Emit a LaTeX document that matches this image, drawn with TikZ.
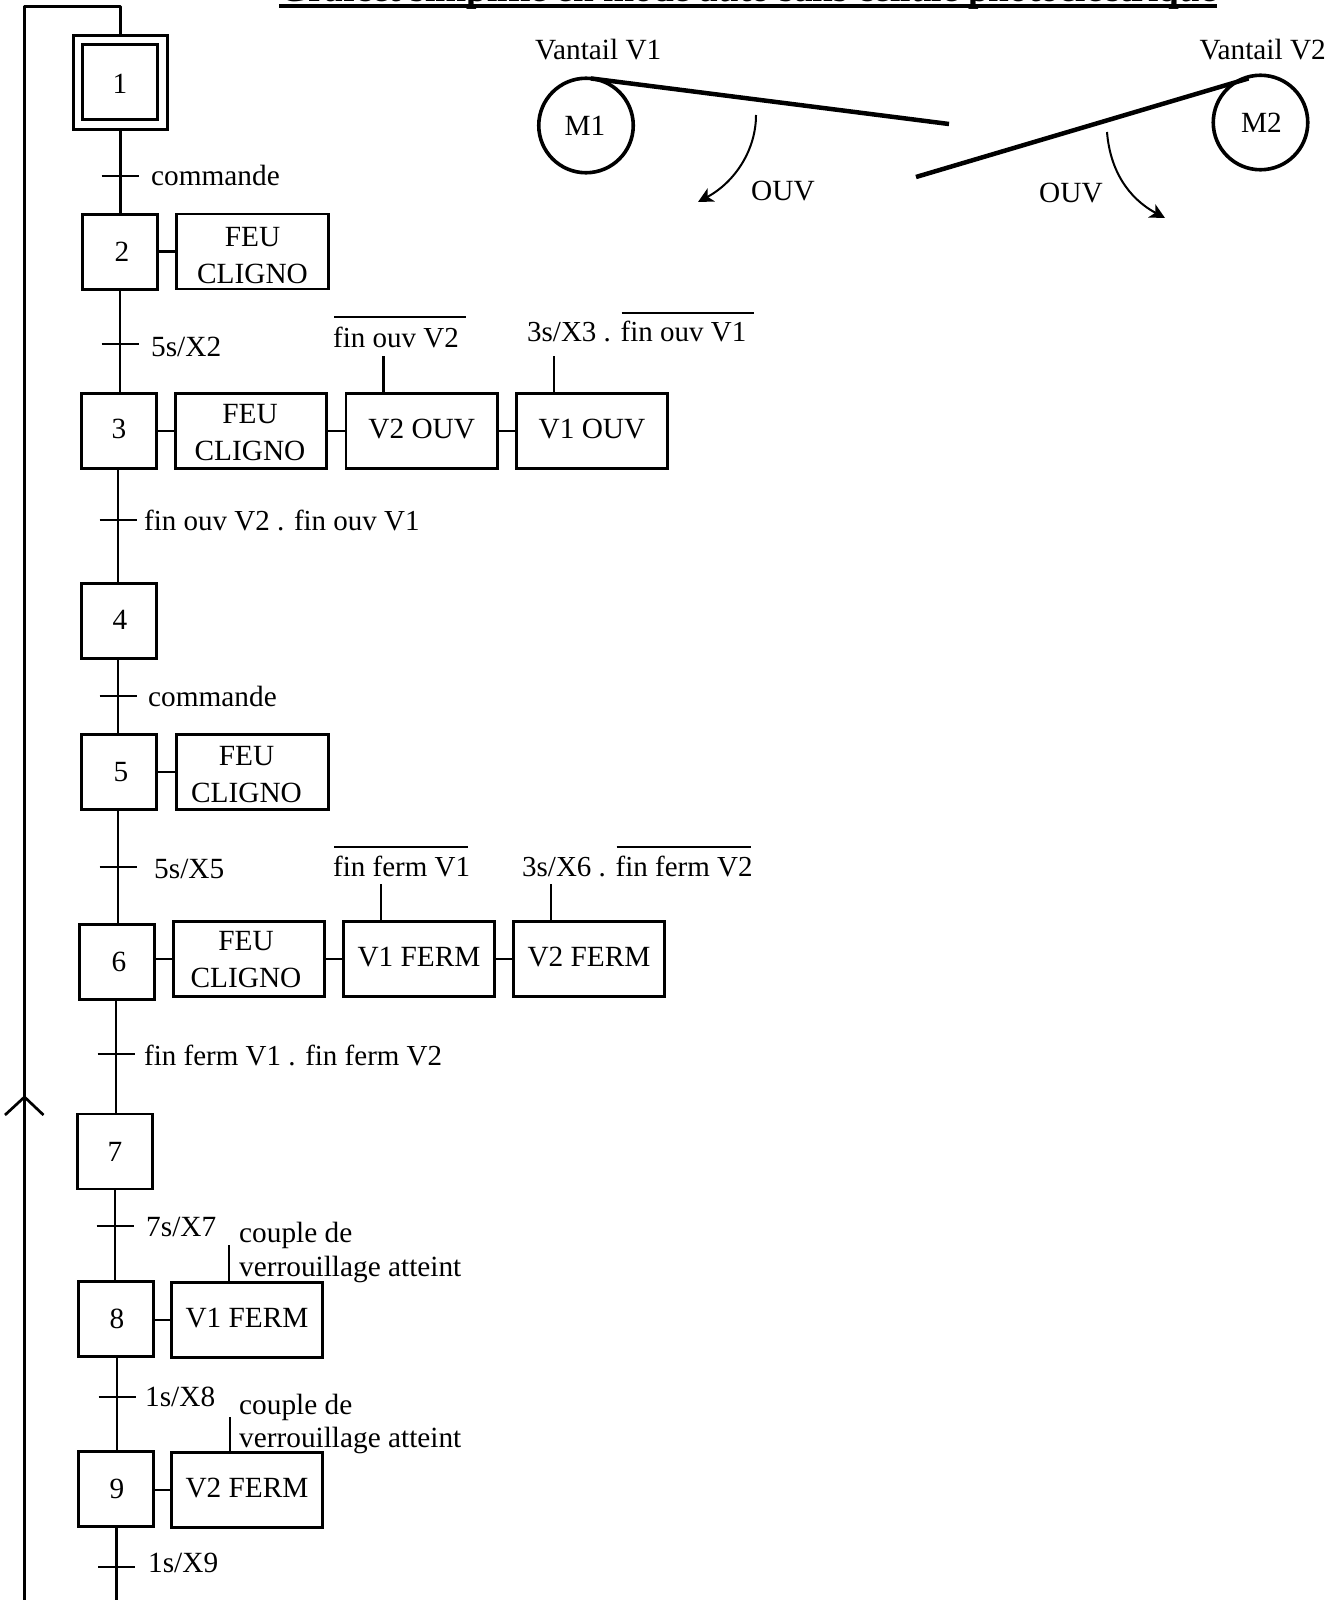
\documentclass[tikz,border=0pt]{standalone}
\usepackage{fontspec}
\setmainfont{Liberation Serif}
\usetikzlibrary{arrows.meta}
\newcommand{\feucli}[2]{\smash{\raisebox{#2pt}{\kern#1pt\begin{tabular}[b]{@{}c@{}}FEU\\CLIGNO\end{tabular}\kern-#1pt}}}
\newcommand{\barover}[2]{\rlap{\kern1pt\rule[#1pt]{#2pt}{2.4pt}}}
\newcommand{\sd}[2]{\kern#1pt#2\kern-#1pt}
\tikzset{
  ln/.style={line width=2.7pt,line cap=butt},
  stepbox/.style={draw,ln,minimum width=75pt,minimum height=75pt,inner sep=0pt},
  actbox/.style={draw,ln,minimum width=151.5pt,minimum height=75pt,inner sep=0pt,text height=14pt,text depth=0pt},
  lab/.style={anchor=base west,inner sep=0pt},
  fin/.style={lab,font=\fontsize{29}{37}\selectfont},
  lead/.style={line width=4.5pt},
  turn/.style={line width=2pt,-{Stealth[length=15pt,width=15pt,inset=4pt]}},
  motor/.style={draw,circle,line width=3.6pt,minimum size=94.5pt,inner sep=0pt}
}
\begin{document}
\begin{tikzpicture}[x=1pt,y=-1pt,font=\fontsize{29.3}{37}\selectfont]
\useasboundingbox (0,0) rectangle (1334,1600);
\fill[white] (0,0) rectangle (1334,1600);
% title
\node[anchor=base west,inner sep=0pt,font=\fontsize{37.3}{40}\selectfont\bfseries] (title) at (279,2) {Grafcet simplifié en mode auto sans cellule photoélectrique};
\draw[line width=3.8pt] ([yshift=-4.2pt]title.base west) -- ([yshift=-4.2pt]title.base east);
% steps
\node[stepbox,minimum width=94pt,minimum height=94pt] (s1o) at (120.7,82.5) {};
\node[stepbox,text height=23pt] (s1) at (120,81.7) {1};
\node[stepbox] (s2) at (120,252) {\sd{2}{2}};
\node[stepbox,text height=16pt] (s3) at (119,431) {3};
\node[stepbox,text height=16pt] (s4) at (119,621) {\sd{1}{4}};
\node[stepbox] (s5) at (119,772) {\sd{2}{5}};
\node[stepbox] (s6) at (117,962) {\sd{2}{6}};
\node[stepbox] (s7) at (115,1151.5) {7};
\node[stepbox] (s8) at (116,1319) {\sd{1}{8}};
\node[stepbox] (s9) at (116,1489) {\sd{1}{9}};
% actions
\node[actbox] (a2) at (252.5,251.5) {\feucli{0}{-24.5}};
\node[actbox] (a3) at (251,431) {\feucli{-1}{-22.5}};
\node[actbox] (a3b) at (421.7,431) {V2 OUV};
\node[actbox] (a3c) at (592,431) {V1 OUV};
\node[actbox] (a5) at (252.5,772) {\feucli{-6}{-23.5}};
\node[actbox] (a6) at (249,959) {\feucli{-3}{-21.5}};
\node[actbox] (a6b) at (419,959) {V1 FERM};
\node[actbox] (a6c) at (589,959) {V2 FERM};
\node[actbox] (a8) at (247,1320) {V1 FERM};
\node[actbox] (a9) at (247,1490) {V2 FERM};
% ticks
\coordinate (t1) at (120,176);
\coordinate (t2) at (120,344);
\coordinate (t3) at (118,520);
\coordinate (t4) at (118,696);
\coordinate (t5) at (118,867);
\coordinate (t6) at (116,1054);
\coordinate (t7) at (115,1226);
\coordinate (t8) at (117,1397);
\coordinate (t9) at (116.5,1567);
\coordinate (end) at (116.5,1600);
\coordinate (lb) at (24.5,1600);
\coordinate (lt) at (24.5,6.5);
\coordinate (ah) at (24.5,1097);
% stems
\draw[ln] (s1o.south) -- (s1o.south |- s2.north);
\draw[ln] (s2.south) -- (s2.south |- s3.north);
\draw[ln] (t3 |- s3.south) -- (t3 |- s4.north);
\draw[ln] (t4 |- s4.south) -- (t4 |- s5.north);
\draw[ln] (t5 |- s5.south) -- (t5 |- s6.north);
\draw[ln] (t6 |- s6.south) -- (t6 |- s7.north);
\draw[ln] (t7 |- s7.south) -- (t7 |- s8.north);
\draw[ln] (t8 |- s8.south) -- (t8 |- s9.north);
\draw[ln] (t9 |- s9.south) -- (end);
\draw[ln,line join=round] (lb) -- (lt) -| (s1o.north);
\draw[ln,line join=round] ([shift={(-19.5pt,-18pt)}]ah) -- (ah) -- ([shift={(19pt,-18pt)}]ah);
\foreach \t in {t1,t2,t3,t4,t5,t6,t7,t8,t9}
  \draw[ln] ([xshift=-18.5pt]\t) -- ([xshift=18.5pt]\t);
% links
\draw[ln] (s2.east |- a2.west) -- (a2.west);
\draw[ln] (s3.east |- a3.west) -- (a3.west);
\draw[ln] (a3.east) -- (a3b.west);
\draw[ln] (a3b.east) -- (a3c.west);
\draw[ln] (s5.east |- a5.west) -- (a5.west);
\draw[ln] (s6.east |- a6.west) -- (a6.west);
\draw[ln] (a6.east) -- (a6b.west);
\draw[ln] (a6b.east) -- (a6c.west);
\draw[ln] (s8.east |- a8.west) -- (a8.west);
\draw[ln] (s9.east |- a9.west) -- (a9.west);
% condition leads
\coordinate (c3b) at (383.5,356);
\coordinate (c3c) at (554,356);
\coordinate (c6b) at (381,884);
\coordinate (c6c) at (551,884);
\coordinate (c8) at (229,1245);
\coordinate (c9) at (230,1417);
\draw[ln] (c3b) -- (c3b |- a3b.north);
\draw[ln] (c3c) -- (c3c |- a3c.north);
\draw[ln] (c6b) -- (c6b |- a6b.north);
\draw[ln] (c6c) -- (c6c |- a6c.north);
\draw[ln] (c8) -- (c8 |- a8.north);
\draw[ln] (c9) -- (c9 |- a9.north);
% labels
\node[lab] (l1) at (151,185) {commande};
\node[lab] (l2) at (151,356) {5s/X2};
\node[fin] (l3) at (144,530) {fin ouv V2 . fin ouv V1};
\node[lab] (l4) at (148,706) {commande};
\node[lab] (l5) at (154,878) {5s/X5};
\node[fin] (l6) at (144,1065) {fin ferm V1 . fin ferm V2};
\node[lab] (l7) at (146,1236) {7s/X7};
\node[lab] (l8) at (145,1406) {1s/X8};
\node[lab] (l9) at (148,1572) {1s/X9};
\node[fin] (k3b) at (333,347) {\barover{29}{132}fin ouv V2};
\node[fin] (k3c) at (527,341) {3s/X3 . \barover{27}{132}fin ouv V1};
\node[fin] (k6b) at (333,876) {\barover{28}{134}fin ferm V1};
\node[fin] (k6c) at (522,876) {3s/X6 . \barover{28}{134}fin ferm V2};
\node[lab] (k8a) at (239,1242) {couple de};
\node[lab] (k8b) at (239,1276) {verrouillage atteint};
\node[lab] (k9a) at (239,1414) {couple de};
\node[lab] (k9b) at (239,1447) {verrouillage atteint};
% gates
\node[motor] (m1) at (586,125.5) {\raisebox{-3pt}{\sd{-1}{M1}}};
\node[motor] (m2) at (1260.5,122.5) {\sd{1}{M2}};
\node[lab] (v1) at (535,60) {Vantail V1};
\node[lab,anchor=base east] (v2) at (1326,60) {Vantail V2};
\coordinate (e1) at (949,124);
\coordinate (e2) at (916,177);
\draw[lead] ([shift={(5pt,-2pt)}]m1.north) -- (e1);
\draw[lead] ([shift={(-12pt,-5pt)}]m2.north) -- (e2);
\node[lab] (o1) at (751,200) {OUV};
\node[lab] (o2) at (1039,202) {OUV};
\coordinate (r1) at (756,115);
\coordinate (q1) at (698,202);
\coordinate (r2) at (1107,132);
\coordinate (q2) at (1165,218);
\draw[turn] (r1) .. controls (756,150) and (735,182) .. (q1);
\draw[turn] (r2) .. controls (1110,170) and (1128,198) .. (q2);
\end{tikzpicture}
\end{document}
